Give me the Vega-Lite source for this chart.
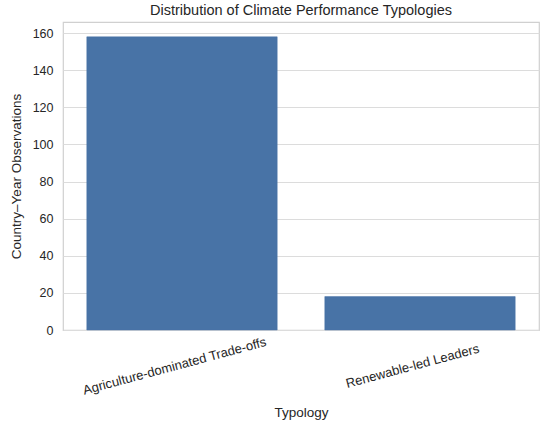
{
  "$schema": "https://vega.github.io/schema/vega-lite/v6.json",
  "autosize": {"type": "none"},
  "padding": {"left": 63, "top": 22, "right": 11, "bottom": 92},
  "width": 476,
  "height": 308,
  "background": "white",
  "title": {
    "text": "Distribution of Climate Performance Typologies",
    "fontSize": 14.5,
    "fontWeight": "normal",
    "font": "Liberation Sans",
    "color": "#262626",
    "offset": 4
  },
  "data": {
    "values": [
      {"Typology": "Agriculture-dominated Trade-offs", "count": 158},
      {"Typology": "Renewable-led Leaders", "count": 18}
    ]
  },
  "config": {
    "view": {"stroke": "#d0d0d0", "strokeWidth": 1.2},
    "axis": {
      "labelFont": "Liberation Sans",
      "titleFont": "Liberation Sans",
      "labelColor": "#262626",
      "titleColor": "#262626",
      "labelFontSize": 12.5,
      "titleFontSize": 13.5,
      "titleFontWeight": "normal",
      "domain": false,
      "ticks": false,
      "gridColor": "#dcdcdc",
      "gridWidth": 1.2
    }
  },
  "mark": {"type": "bar", "color": "#4873a6", "stroke": "#4873a6", "strokeWidth": 0.5},
  "encoding": {
    "x": {
      "field": "Typology",
      "type": "nominal",
      "sort": null,
      "scale": {"paddingInner": 0.2, "paddingOuter": 0.1},
      "axis": {
        "title": "Typology",
        "labelFontSize": 13,
        "labelLimit": 0,
        "labelAngle": -15,
        "labelAlign": "center",
        "labelBaseline": "top",
        "labelPadding": 30,
        "labelOffset": -9,
        "titlePadding": 8,
        "grid": false
      }
    },
    "y": {
      "field": "count",
      "type": "quantitative",
      "scale": {"domain": [0, 166], "nice": false},
      "axis": {
        "title": "Country–Year Observations",
        "values": [0, 20, 40, 60, 80, 100, 120, 140, 160],
        "labelPadding": 10,
        "titlePadding": 9,
        "grid": true
      }
    }
  }
}
